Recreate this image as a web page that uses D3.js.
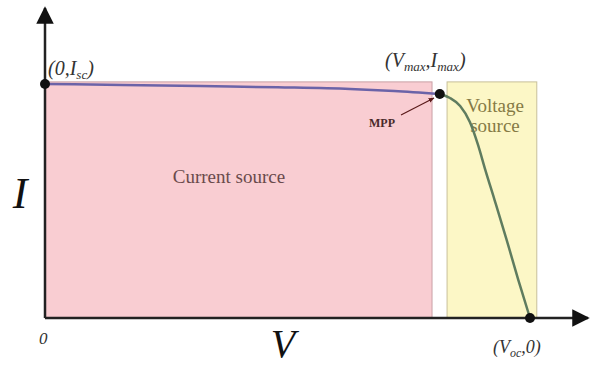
<!DOCTYPE html>
<html>
<head>
<meta charset="utf-8">
<script src="https://cdn.jsdelivr.net/npm/d3@7"></script>
<style>
  body { margin: 0; background: #fff; }
  text { font-family: "Liberation Serif", "DejaVu Serif", serif; }
</style>
</head>
<body>
<div class="container"></div>
<script>
// I-V curve (normalised: Voc = 1, Isc = 1)
var currentPart = [[0, 1], [0.16, 0.996], [0.32, 0.991], [0.48, 0.986], [0.629, 0.979], [0.72, 0.97], [0.814, 0.957]];
var voltagePart = [[0.814, 0.957], [0.835, 0.94], [0.856, 0.906], [0.876, 0.838], [0.893, 0.739], [0.908, 0.632], [0.927, 0.504], [0.952, 0.333], [0.976, 0.162], [1, 0]];
var keyPoints = [[0, 1], [0.814, 0.957], [1, 0]];
var regions = [
  {name: "current", v0: 0, v1: 0.798, i1: 1.009},
  {name: "voltage", v0: 0.829, v1: 1.014, i1: 1.009}
];

const WIDTH = 592;
const HEIGHT = 367;

var svg = d3.select('.container').append('svg')
  .attr('width', WIDTH)
  .attr('height', HEIGHT);

var xScale = d3.scaleLinear().domain([0, 1]).range([45, 530]);
var yScale = d3.scaleLinear().domain([0, 1]).range([318, 84]);

var defs = svg.append('defs');
defs.append('marker')
  .attr('id', 'arrow')
  .attr('viewBox', '0 0 10 10')
  .attr('refX', 9).attr('refY', 5)
  .attr('markerWidth', 7).attr('markerHeight', 7)
  .attr('orient', 'auto')
  .append('path').attr('d', 'M0,0 L10,5 L0,10 Z').attr('fill', '#111');
defs.append('marker')
  .attr('id', 'arrowSmall')
  .attr('viewBox', '0 0 10 10')
  .attr('refX', 9).attr('refY', 5)
  .attr('markerWidth', 5).attr('markerHeight', 5)
  .attr('orient', 'auto')
  .append('path').attr('d', 'M0,1 L10,5 L0,9 Z').attr('fill', '#5a1a1a');

// shaded regions
svg.selectAll('rect.region').data(regions).enter().append('rect')
  .attr('class', 'region')
  .attr('x', function(d){ return xScale(d.v0); })
  .attr('y', function(d){ return yScale(d.i1); })
  .attr('width', function(d){ return xScale(d.v1) - xScale(d.v0); })
  .attr('height', function(d){ return yScale(0) - yScale(d.i1); })
  .attr('fill', function(d){ return d.name == "current" ? '#f9cdd2' : '#fcf7c6'; })
  .attr('stroke', function(d){ return d.name == "current" ? '#c9a0a6' : '#c8c09a'; })
  .attr('stroke-width', 1);

svg.append('text')
  .attr('x', 229).attr('y', 183)
  .attr('text-anchor', 'middle')
  .attr('font-size', 19)
  .attr('fill', '#6a4a4c')
  .text('Current source');

svg.append('text')
  .attr('x', 495).attr('y', 112)
  .attr('text-anchor', 'middle')
  .attr('font-size', 19)
  .attr('fill', '#857a45')
  .text('Voltage');
svg.append('text')
  .attr('x', 495).attr('y', 132)
  .attr('text-anchor', 'middle')
  .attr('font-size', 19)
  .attr('fill', '#857a45')
  .text('source');

// axes
svg.append('line')
  .attr('x1', xScale(0)).attr('y1', yScale(0))
  .attr('x2', 588).attr('y2', yScale(0))
  .attr('stroke', '#222').attr('stroke-width', 2.5)
  .attr('marker-end', 'url(#arrow)');
svg.append('line')
  .attr('x1', xScale(0)).attr('y1', yScale(0))
  .attr('x2', xScale(0)).attr('y2', 8)
  .attr('stroke', '#222').attr('stroke-width', 2.5)
  .attr('marker-end', 'url(#arrow)');

// curve
var line = d3.line()
  .x(function(d){ return xScale(d[0]); })
  .y(function(d){ return yScale(d[1]); })
  .curve(d3.curveMonotoneX);

svg.append('path')
  .attr('d', line(currentPart))
  .attr('fill', 'none')
  .attr('stroke', '#6b63a8')
  .attr('stroke-width', 2.5);

svg.append('path')
  .attr('d', line(voltagePart))
  .attr('fill', 'none')
  .attr('stroke', '#5f7c5f')
  .attr('stroke-width', 2.5);

svg.selectAll('circle.key').data(keyPoints).enter().append('circle')
  .attr('class', 'key')
  .attr('cx', function(d){ return xScale(d[0]); })
  .attr('cy', function(d){ return yScale(d[1]); })
  .attr('r', 5)
  .attr('fill', '#111');

// MPP label
svg.append('text')
  .attr('x', 382).attr('y', 127)
  .attr('text-anchor', 'middle')
  .attr('font-size', 12)
  .attr('font-weight', 'bold')
  .attr('fill', '#4a2a2a')
  .text('MPP');
svg.append('line')
  .attr('x1', 401).attr('y1', 115)
  .attr('x2', 434).attr('y2', 98)
  .attr('stroke', '#5a1a1a').attr('stroke-width', 1.2)
  .attr('marker-end', 'url(#arrowSmall)');

// point labels
var t1 = svg.append('text')
  .attr('x', 48).attr('y', 75)
  .attr('font-size', 20).attr('font-style', 'italic').attr('fill', '#333');
t1.append('tspan').text('(0,I');
t1.append('tspan').attr('font-size', 13).attr('dy', 4).text('sc');
t1.append('tspan').attr('dy', -4).text(')');

var t2 = svg.append('text')
  .attr('x', 385).attr('y', 67)
  .attr('font-size', 20).attr('font-style', 'italic').attr('fill', '#333');
t2.append('tspan').text('(V');
t2.append('tspan').attr('font-size', 13).attr('dy', 4).text('max');
t2.append('tspan').attr('dy', -4).text(',I');
t2.append('tspan').attr('font-size', 13).attr('dy', 4).text('max');
t2.append('tspan').attr('dy', -4).text(')');

var t3 = svg.append('text')
  .attr('x', 493).attr('y', 353)
  .attr('font-size', 18).attr('font-style', 'italic').attr('fill', '#333');
t3.append('tspan').text('(V');
t3.append('tspan').attr('font-size', 12).attr('dy', 4).text('oc');
t3.append('tspan').attr('dy', -4).text(',0)');

svg.append('text')
  .attr('x', 39).attr('y', 344)
  .attr('font-size', 17).attr('font-style', 'italic').attr('fill', '#333')
  .text('0');

// axis titles
svg.append('text')
  .attr('x', 20).attr('y', 208)
  .attr('text-anchor', 'middle')
  .attr('font-size', 44).attr('font-style', 'italic').attr('fill', '#111')
  .text('I');
svg.append('text')
  .attr('x', 283).attr('y', 357)
  .attr('text-anchor', 'middle')
  .attr('font-size', 40).attr('font-style', 'italic').attr('fill', '#111')
  .text('V');
</script>
</body>
</html>
